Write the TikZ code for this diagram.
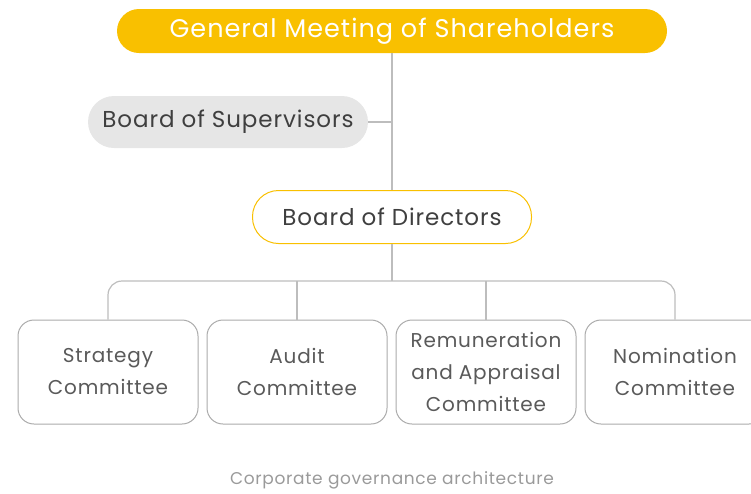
\documentclass[tikz,border=0pt]{standalone}
\usepackage{fontspec}
\setmainfont{Poppins}[LetterSpace=4]
\definecolor{gold}{HTML}{F9C000}
\definecolor{linegray}{HTML}{BDBDBD}
\definecolor{boxgray}{HTML}{ABABAB}
\definecolor{textdark}{HTML}{3F3F3F}
\definecolor{textmid}{HTML}{5A5A5A}
\definecolor{capgray}{HTML}{9A9A9A}
\definecolor{supfill}{HTML}{E6E6E6}
\begin{document}
\begin{tikzpicture}[x=1pt,y=-1pt,
  topbox/.style={fill=gold,draw=none,rounded corners=22pt,minimum width=550pt,minimum height=44pt,text=white,font=\fontsize{25.5}{27}\selectfont},
  supbox/.style={fill=supfill,draw=none,rounded corners=26pt,minimum width=280pt,minimum height=52pt,text=textdark,font=\fontsize{23}{24}\selectfont},
  dirbox/.style={fill=white,draw=gold,line width=1pt,rounded corners=26pt,minimum width=279pt,minimum height=53pt,text=textdark,font=\fontsize{23}{24}\selectfont},
  combox/.style={fill=white,draw=boxgray,line width=1pt,rounded corners=16pt,minimum width=180pt,minimum height=104pt,text=textmid,align=center,font=\fontsize{20}{32}\selectfont},
  conn/.style={draw=linegray,line width=1.2pt}]
\useasboundingbox (0,0) rectangle (751,493);
\node[topbox] (gm) at (392,31) {General Meeting of Shareholders};
\node[supbox] (sup) at (228,122) {Board of Supervisors};
\node[dirbox] (dir) at (392,217) {Board of Directors};
\node[combox] (c1) at (108,372) {Strategy\\Committee};
\node[combox] (c2) at (297,372) {Audit\\Committee};
\node[combox] (c3) at (486,372) {Remuneration\\and Appraisal\\Committee};
\node[combox] (c4) at (675,372) {Nomination\\Committee};
\node[text=capgray,font=\fontsize{17}{18}\selectfont] (cap) at (392,480) {Corporate governance architecture};
\coordinate (j) at (392,122);
\coordinate (h) at (392,281);
\draw[conn] (gm.south) -- (dir.north);
\draw[conn] (sup.east) -- (j);
\draw[conn] (dir.south) -- (h);
\draw[conn,rounded corners=14pt] (c1.north) |- (h) -| (c4.north);
\draw[conn] (c2.north) -- (c2.north |- h);
\draw[conn] (c3.north) -- (c3.north |- h);
\end{tikzpicture}
\end{document}
